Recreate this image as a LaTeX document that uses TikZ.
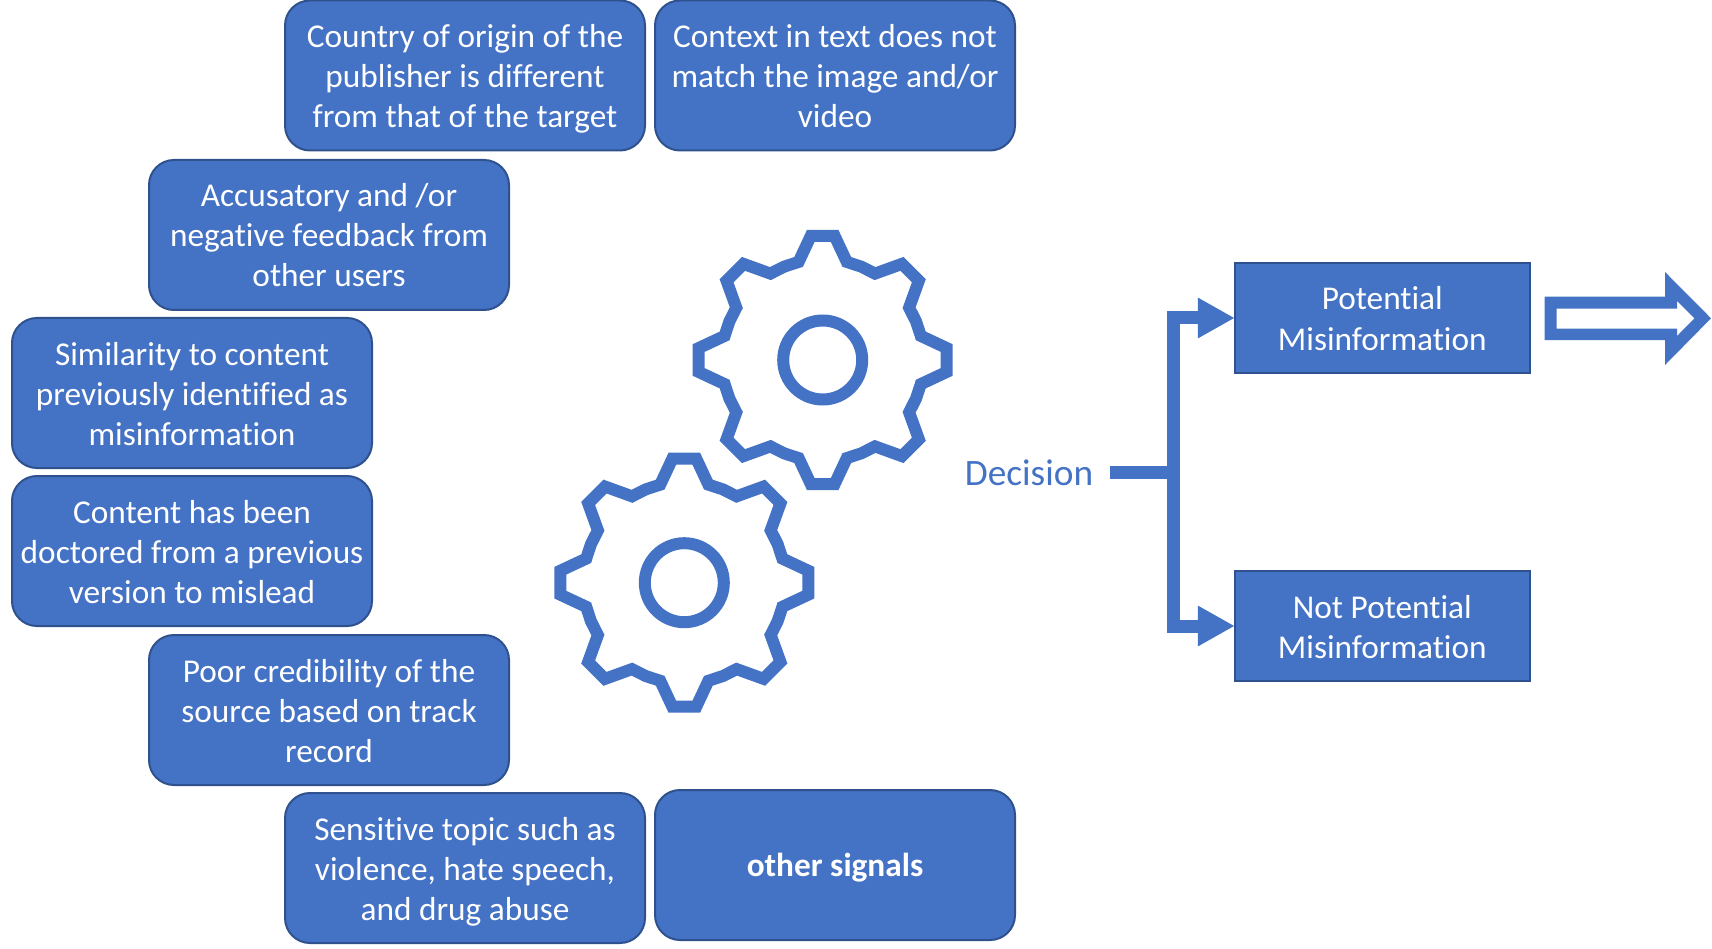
\documentclass[tikz,border=0pt]{standalone}
\usepackage{fontspec}
\setmainfont[Ligatures=NoCommon]{Carlito}
\usetikzlibrary{arrows.meta}
\definecolor{blu}{HTML}{4472C4}
\definecolor{edge}{HTML}{2F528F}
\newcommand{\fl}{\vrule height 33pt depth 0pt width 0pt\relax}
\tikzset{
  x=1pt,y=-1pt,
  boxtext/.style={text=white,inner sep=0pt,outer sep=0pt,align=center,font=\fontsize{33.3}{40}\selectfont,execute at begin node={\vrule height #1 depth 0pt width 0pt},execute at end node={\vrule height 0pt depth 9pt width 0pt}},
  boxtext/.default=0pt,
  signal/.style={boxtext=#1,draw=edge,line width=2pt,fill=blu,rounded corners=25pt,minimum width=360pt,minimum height=150pt},
  signal/.default=0pt,
  outcome/.style={boxtext,draw=edge,line width=2pt,fill=blu,minimum width=295pt,minimum height=110pt},
  link/.style={draw=blu,line width=13pt},
  linktip/.style={link,-{Triangle[length=37pt,width=38pt]}},
  gearline/.style={draw=blu,line width=12pt,miter limit=10},
}
\newcommand{\geardraw}[2]{%
  \draw[gearline,shift={(#1,#2)}] (-5.5:124.6)
    \foreach \a in {0,45,...,315}{ -- (\a-5.5:124.6) -- (\a+5.5:124.6) -- (\a+13.8:101) -- (\a+22.5:101) -- (\a+31.2:101)} -- cycle;
  \draw[gearline,shift={(#1,#2)}] (0,0) circle[radius=39.5pt];
}
\begin{document}
\begin{tikzpicture}
\useasboundingbox (0,0) rectangle (1712,949);
\fill[white] (0,0) rectangle (1712,949);
\node[signal] (s1) at (465,75.5) {\fl Country of origin of the\\publisher is different\\from that of the target};
\node[signal] (s2) at (835,75.5) {\fl Context in text does not\\match the image and/or\\video};
\node[signal] (s3) at (329,235) {\fl Accusatory and /or\\negative feedback from\\other users};
\node[signal] (s4) at (192,393) {\fl Similarity to content\\previously identified as\\misinformation};
\node[signal] (s5) at (192,551) {\fl Content has been\\doctored from a previous\\version to mislead};
\node[signal] (s6) at (329,710) {\fl Poor credibility of the\\source based on track\\record};
\node[signal] (s7) at (465,868) {\fl Sensitive topic such as\\violence, hate speech,\\and drug abuse};
\node[signal=31pt,font=\fontsize{33.3}{40}\selectfont\bfseries] (s8) at (835,865) {other signals};
\geardraw{822.7}{360}
\geardraw{684.3}{582.7}
\node[text=blu,inner sep=0pt,font=\fontsize{37.3}{44}\selectfont] (dec) at (1029,472.5) {Decision};
\node[outcome] (pot) at (1382.3,318) {\fl Potential\\Misinformation};
\node[outcome] (not) at (1382.3,626) {\fl Not Potential\\Misinformation};
\coordinate (stem) at (1110,472.7);
\coordinate (junc) at (1180,472.7);
\coordinate (trunk) at (1173.5,472.7);
\draw[link] (stem) -- (junc);
\draw[linktip] (trunk) |- (pot.west);
\draw[linktip] (trunk) |- (not.west);
\fill[blu,even odd rule]
  (1544.5,296.7) -- (1665,296.7) -- (1665,272) -- (1711,318.3) -- (1665,365) -- (1665,340) -- (1544.5,340) -- cycle
  (1556.5,308.7) -- (1677,308.7) -- (1677,301) -- (1694.5,318.3) -- (1677,336) -- (1677,328.7) -- (1556.5,328.7) -- cycle;
\end{tikzpicture}
\end{document}
